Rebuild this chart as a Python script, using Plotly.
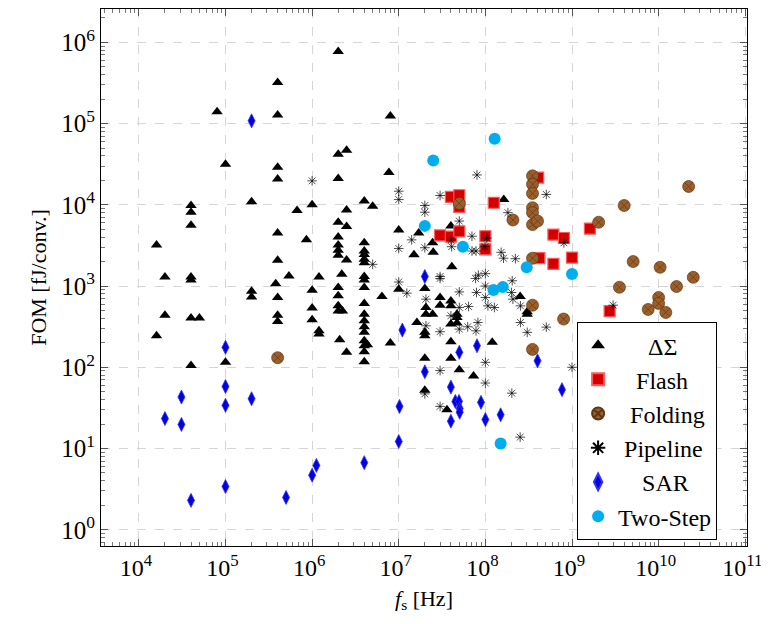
import plotly.graph_objects as go

# ---------------- data (fs [Hz], FOM [fJ/conv.]) ----------------
ds_fs = [4e5, 8e4, 4e5, 1e5, 4e5, 4e5, 2e6, 8e6, 2e6, 2.5e6, 2e6, 7.7e6,
         4e4, 4e4, 4e4, 2e5, 6.7e5, 1e6, 4e5, 8.6e5, 1.6e4, 4e5, 2e4, 4e4, 4e4,
         5.4e5, 1.2e6, 3.8e5, 2e5, 2e5, 4e5, 1e6, 1e6, 2e4, 4e4, 5e4, 4e5, 4e5,
         1e6, 1.2e6, 1.2e6, 1.6e4, 1e5, 4e4,
         4e6, 5e6, 2.5e6, 1.63e8, 2e6, 2.5e6, 4e7, 1e7, 1.7e7, 2e6, 2.46e7, 1.5e7,
         2.5e7, 2e6, 2e6, 2e6, 4e6, 4e6, 4e6, 4e6, 4e6, 2.5e6, 2.2e6, 4e6, 4e6,
         4.1e7, 2e6, 2e6, 4e6, 1e7, 2e7, 2.52e8, 6.4e6, 3e7, 3e7, 4e7, 4e7,
         2.06e7, 2.06e7, 3.04e8, 3.04e8, 2e6, 2e6, 2.24e6, 4e6, 4e6, 2.46e7,
         4.7e7, 4.7e7, 4.7e7, 4e6, 4e6, 4e6, 1.62e7, 4e7, 2e7, 2e7, 4e6, 4e6,
         4.35e6, 2.08e6, 8e6, 4e7, 1.2e8, 2.5e6, 4e6, 4e7, 2e7, 4e6, 5e7, 7.3e7,
         2e7, 3.6e7]
ds_fom = [3.2e5, 1.4e5, 1.27e5, 3.15e4, 2.9e4, 2.08e4, 7.7e5, 1.24e5, 4.2e4, 4.7e4, 2.1e4, 2.5e4,
          9.8e3, 8.1e3, 5.6e3, 1.09e4, 8.5e3, 1.0e4, 4.5e3, 3.7e3, 3.2e3, 2.07e3, 1.29e3, 1.29e3, 1.19e3,
          1.33e3, 1.29e3, 1.07e3, 863, 735, 723, 888, 538, 438, 403, 403, 438, 367,
          384, 281, 256, 244, 115, 105,
          1.11e4, 9.6e3, 8.6e3, 1.16e4, 6.1e3, 5.4e3, 5.5e3, 4.9e3, 4.5e3, 4.0e3, 3.4e3, 2.43e3,
          2.6e3, 3.2e3, 2.75e3, 2.39e3, 3.4e3, 2.7e3, 2.45e3, 2.13e3, 1.94e3, 2.09e3, 1.4e3, 1.31e3, 1.19e3,
          1.73e3, 959, 757, 959, 914, 931, 743, 743, 723, 581, 656, 570,
          544, 451, 481, 451, 570, 494, 494, 610, 451, 451,
          451, 410, 350, 373, 315, 269, 356, 340, 269, 244, 212, 184,
          189, 218, 199, 206, 203, 153, 155, 129, 129, 117, 93, 78,
          52, 30]

flash_fs = [4.07e8, 4e7, 5e7, 5e7, 1.25e8, 3e7, 4e7, 5e7, 1e8, 1e8, 4.2e8, 6.1e8,
            8.07e8, 1.61e9, 6.1e8, 1e9, 2.72e9]
flash_fom = [2.16e4, 1.25e4, 1.31e4, 9.4e3, 1.06e4, 4.2e3, 4.05e3, 4.7e3, 4.1e3, 2.83e3, 2.2e3, 4.3e3,
             3.9e3, 5.1e3, 1.87e3, 2.24e3, 491]

fold_fs = [2.22e10, 3.5e8, 3.5e8, 3.5e8, 3.5e8, 3.5e8, 3.5e8, 2.08e8, 4e8, 5e7, 3.5e8, 3.5e8,
           3.5e8, 4e9, 2.03e9, 5.08e9, 1.04e10, 2.51e10, 3.53e9, 1.61e10, 1e10, 1e10, 7.58e9,
           1.21e10, 8e8, 4e5]
fold_fom = [1.68e4, 2.27e4, 1.79e4, 1.38e4, 9.2e3, 8.0e3, 5.7e3, 6.5e3, 6.3e3, 1.04e4, 2.2e3, 581,
            166, 9.8e3, 6.1e3, 2.0e3, 1.7e3, 1.28e3, 966, 986, 723, 610, 515,
            473, 392, 131]

pipe_fs = [1e6, 8e7, 1e7, 1e7, 3e7, 2e7, 2e7, 1.82e8, 5.05e8, 5e7, 1.41e7, 4e7, 7e7, 1.04e8,
           2e7, 4.08e7, 9.9e7, 7e7, 7.8e7, 1.52e8, 1.62e8, 2.22e8, 8.07e8, 1e7, 5e6, 3e7, 3e7,
           7.7e7, 8.3e7, 1e8, 2.04e8, 1e7, 1.24e7, 5e7, 7.9e7, 1e8, 1e8, 2e8, 2.08e8, 2.06e7,
           1.07e8, 1.27e8, 2.54e8, 6.4e7, 5e7, 4e7, 2.54e8, 2.06e7, 8.2e7, 5e7, 6.25e7, 7.8e7,
           3e7, 3.04e8, 2.98e9, 5.05e8, 1e9, 1e8, 3e7, 1e8, 2e7, 2.02e8, 3e7, 2.52e8]
pipe_fom = [1.97e4, 2.33e4, 1.47e4, 1.16e4, 1.3e4, 9.8e3, 8.1e3, 8.0e3, 1.34e4, 6.3e3, 3.7e3, 3.7e3, 4.1e3, 3.9e3,
            2.96e3, 3.05e3, 3.05e3, 2.7e3, 2.7e3, 2.6e3, 2.2e3, 2.17e3, 3.4e3, 2.9e3, 1.85e3, 1.31e3, 1.24e3,
            1.24e3, 1.36e3, 1.42e3, 1.16e3, 1.12e3, 817, 847, 832, 1.0e3, 723, 832, 689, 689,
            570, 544, 570, 560, 544, 430, 356, 324, 356, 295, 315, 281,
            274, 269, 581, 312, 100, 115, 91, 64, 47, 48, 33, 13.8]

sar_fs = [2e5, 1e5, 2e4, 3.1e4, 3.1e4, 1e5, 1e5, 2e5, 4e4, 1e5, 5e5, 1e6, 1.12e6,
          2e7, 1.1e7, 8e7, 5e7, 4e8, 2e7, 4e7, 4.5e7, 4.96e7, 8.9e7, 5.05e7, 5.05e7,
          1.02e7, 1.5e8, 4e7, 1e8, 1e7, 4e6, 7.66e8]
sar_fom = [1.08e5, 176, 23.4, 43, 19.8, 58, 34, 41, 2.3, 3.4, 2.5, 4.7, 6.2,
           1.31e3, 287, 184, 153, 120, 88, 57, 38, 38, 37, 31, 28,
           33, 26, 21.7, 22.7, 12.2, 6.7, 53]

ts_fs = [2.5e7, 1.28e8, 2e7, 5.5e7, 3e8, 1.24e8, 1.59e8, 1e9, 1.5e8]
ts_fom = [3.5e4, 6.5e4, 5.5e3, 3.05e3, 1.7e3, 896, 975, 1.41e3, 11.5]

# tick labels
y_tickvals = [1, 10, 100, 1e3, 1e4, 1e5, 1e6]
y_ticktext = ["10<sup>0</sup>", "10<sup>1</sup>", "10<sup>2</sup>", "10<sup>3</sup>",
              "10<sup>4</sup>", "10<sup>5</sup>", "10<sup>6</sup>"]
x_tickvals = [1e4, 1e5, 1e6, 1e7, 1e8, 1e9, 1e10, 1e11]
x_ticktext = ["10<sup>4</sup>", "10<sup>5</sup>", "10<sup>6</sup>", "10<sup>7</sup>",
              "10<sup>8</sup>", "10<sup>9</sup>", "10<sup>10</sup>", "10<sup>11</sup>"]

# legend labels (non-breaking spaces centre them in the box like the original)
NB = "\u00a0"
names = [NB * 5 + "ΔΣ", NB * 3 + "Flash", NB * 2 + "Folding", NB + "Pipeline",
         NB * 4 + "SAR", "Two-Step"]

# ---------------- figure ----------------
FONT = "Liberation Serif"

fig = go.Figure()
series = [
    (ds_fs, ds_fom, dict(symbol="triangle-up", size=10, color="black",
                         line=dict(width=0))),
    (flash_fs, flash_fom, dict(symbol="square", size=11, color="#d40000",
                               line=dict(width=1.2, color="#ff5a5a"))),
    (fold_fs, fold_fom, dict(symbol="circle-x", size=12, color="#9c5f2b",
                             line=dict(width=0.7, color="#5e3613"))),
    (pipe_fs, pipe_fom, dict(symbol="asterisk-open", size=8, color="black",
                             line=dict(width=0.7, color="black"))),
    (sar_fs, sar_fom, dict(symbol="diamond-tall", size=10, color="#0000e0",
                           line=dict(width=0.8, color="#3030ff"))),
    (ts_fs, ts_fom, dict(symbol="circle", size=12, color="#00aeef",
                         line=dict(width=0))),
]
for i, ((xs, ys, mk), name) in enumerate(zip(series, names)):
    fig.add_trace(go.Scatter(x=xs, y=ys, mode="markers", name=name, marker=mk,
                             legendgroup=f"g{i}"))

axis_common = dict(
    type="log", showline=True, linecolor="black", linewidth=1.2, mirror="ticks",
    ticks="inside", ticklen=7, tickcolor="#555", tickwidth=1,
    tickmode="array",
    showgrid=True, gridcolor="#d6d6d6", griddash="dash", gridwidth=1,
    zeroline=False, automargin=False, ticklabeloverflow="allow",
    minor=dict(ticks="inside", ticklen=4, tickcolor="#777", dtick="D1", showgrid=False),
)

fig.update_xaxes(range=[3.563, 11.02],
                 tickvals=x_tickvals, ticktext=x_ticktext,
                 tickfont=dict(family=FONT, size=24, color="black"),
                 ticklabelshift=-3,
                 title=dict(text="<i>f</i><sub>s</sub> [Hz]", font=dict(family=FONT, size=22, color="black"),
                            standoff=10),
                 **axis_common)
fig.update_yaxes(range=[-0.2, 6.41],
                 tickvals=y_tickvals, ticktext=y_ticktext,
                 tickfont=dict(family=FONT, size=25, color="black"),
                 title=dict(text="FOM [fJ/conv.]", font=dict(family=FONT, size=22, color="black"),
                            standoff=8),
                 **axis_common)

# the page body adds an 8 px offset, so the figure is 8 px smaller and margins shifted
fig.update_layout(
    width=761, height=616,
    margin=dict(l=93, r=22, t=1, b=78, autoexpand=False),
    plot_bgcolor="white", paper_bgcolor="white",
    font=dict(family=FONT, color="black"),
    legend=dict(x=0.737, y=0.417, xanchor="left", yanchor="top",
                bgcolor="white", bordercolor="black", borderwidth=1,
                font=dict(family=FONT, size=24, color="black"),
                traceorder="grouped", tracegroupgap=0, itemsizing="constant"),
    showlegend=True,
)

fig.write_html("out.html")
